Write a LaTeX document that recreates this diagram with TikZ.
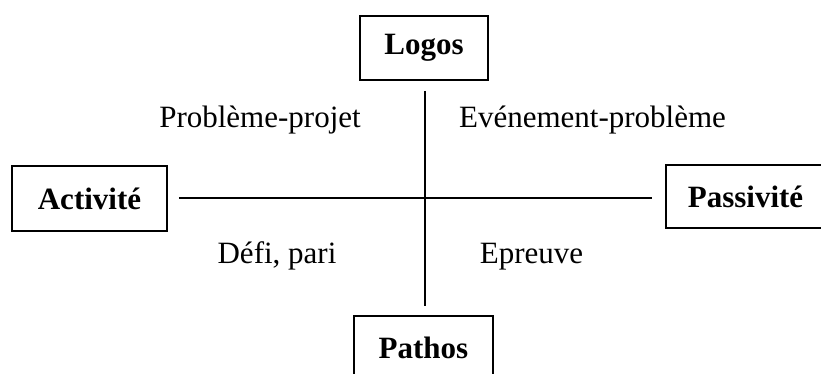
\documentclass[tikz,border=0pt]{standalone}
\usepackage{fontspec}
\setmainfont{Liberation Serif}
\begin{document}
\begin{tikzpicture}[x=1pt,y=-1pt,
  box/.style={draw, line width=1.6pt, inner sep=0pt, font=\fontsize{31}{37}\selectfont\bfseries},
  lbl/.style={inner sep=0pt, anchor=base, font=\fontsize{31}{37}\selectfont},
  axis/.style={line width=1.6pt}]
\useasboundingbox (0,0) rectangle (821,374);
\clip (0,0) rectangle (821,374);
\node[box, minimum width=128pt, minimum height=64pt] (logos) at (424,48) {Logos};
\node[box, minimum width=155pt, minimum height=65pt] (act) at (89.5,198.5) {Activité};
\node[box, minimum width=159pt, minimum height=63pt] (pas) at (745.5,196.5) {Passivité};
\node[box, minimum width=139pt, minimum height=64pt] (path) at (423.5,348) {Pathos};
\draw[axis, shorten <=10pt, shorten >=9pt] (logos.south -| 425,0) -- (path.north -| 425,0);
\draw[axis, shorten <=11pt, shorten >=13pt] (act.east |- 0,198) -- (pas.west |- 0,198);
\node[lbl] (pp) at (260,128) {Problème-projet};
\node[lbl] (ep) at (592.5,128) {Evénement-problème};
\node[lbl] (dp) at (277,263) {Défi, pari};
\node[lbl] (epr) at (531.5,263) {Epreuve};
\end{tikzpicture}
\end{document}
